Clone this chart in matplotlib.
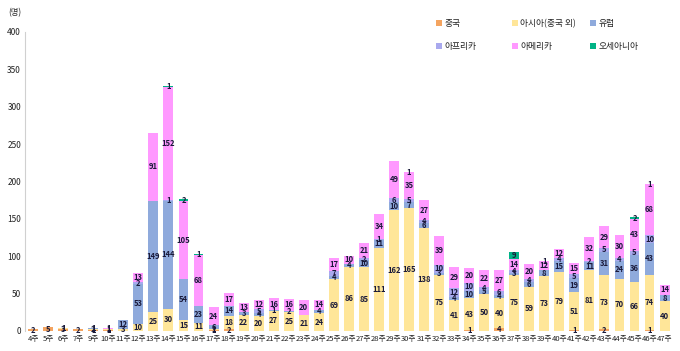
import matplotlib
matplotlib.use('Agg')
import matplotlib.pyplot as plt
import numpy as np

plt.rcParams['font.family'] = ['Noto Sans CJK KR', 'DejaVu Sans']

weeks = [4, 5, 6, 7, 9, 10, 11, 12, 13, 14, 15, 16, 17, 18, 19, 20, 21, 22, 23, 24,
         25, 26, 27, 28, 29, 30, 31, 32, 33, 34, 35, 36, 37, 38, 39, 40, 41, 42, 43,
         44, 45, 46, 47]
week_labels = [f'{w}주' for w in weeks]

china = [2, 5, 3, 2, 1, 1, 0, 0, 0, 0, 0, 0, 1, 2, 0, 0, 0, 0, 0, 0,
         0, 0, 0, 0, 0, 0, 0, 0, 0, 1, 0, 4, 0, 0, 0, 0, 1, 0, 2,
         0, 0, 1, 0]
asia = [0, 0, 1, 0, 2, 1, 3, 10, 25, 30, 15, 11, 1, 18, 22, 20, 27, 25, 21, 24,
        69, 86, 85, 111, 162, 165, 138, 75, 41, 43, 50, 40, 75, 59, 73, 79, 51, 81, 73,
        70, 66, 74, 40]
europe = [0, 0, 0, 0, 1, 1, 12, 53, 149, 144, 54, 23, 6, 14, 3, 4, 1, 2, 0, 4,
          4, 4, 10, 11, 10, 7, 6, 3, 4, 10, 5, 4, 3, 6, 8, 15, 19, 11, 31,
          24, 36, 43, 8]
africa = [0, 0, 0, 0, 0, 0, 0, 2, 0, 1, 0, 0, 0, 0, 0, 5, 0, 0, 0, 0,
          7, 0, 2, 1, 6, 5, 4, 10, 12, 10, 4, 6, 4, 4, 0, 4, 5, 2, 5,
          4, 5, 10, 0]
america = [0, 0, 0, 0, 0, 1, 0, 13, 91, 152, 105, 68, 24, 17, 13, 12, 16, 16, 20, 14,
           17, 10, 21, 34, 49, 35, 27, 39, 29, 20, 22, 27, 14, 20, 12, 12, 15, 32, 29,
           30, 43, 68, 14]
oceania = [0, 0, 0, 0, 0, 0, 0, 0, 0, 1, 2, 1, 0, 0, 0, 0, 0, 0, 0, 0,
           0, 0, 0, 0, 0, 1, 0, 0, 0, 0, 0, 0, 9, 0, 1, 0, 0, 0, 0,
           0, 2, 1, 0]

series = [
    ('중국', china, '#F4A460'),
    ('아시아(중국 외)', asia, '#FFE699'),
    ('유럽', europe, '#8FAADC'),
    ('아프리카', africa, '#A9A9EE'),
    ('아메리카', america, '#FF99FF'),
    ('오세아니아', oceania, '#00B386'),
]

fig = plt.figure(figsize=(6.8, 3.51), dpi=100)
ax = fig.add_axes([0.037, 0.057, 0.958, 0.852])

x = np.arange(len(weeks))
bottom = np.zeros(len(weeks))
handles = []
for name, vals, color in series:
    vals = np.array(vals, dtype=float)
    h = ax.bar(x, vals, 0.66, bottom=bottom, color=color, label=name)
    handles.append(h)
    for xi, v, b in zip(x, vals, bottom):
        if v > 0:
            ax.text(xi, b + v / 2, f'{int(v)}', ha='center', va='center',
                    fontsize=5.5, fontweight='bold', color='#1a1a3a')
    bottom += vals

ax.set_ylim(0, 400)
ax.set_xlim(-0.53, 42.8)
ax.set_yticks(range(0, 401, 50))
ax.set_xticks(x)
ax.set_xticklabels(week_labels, fontsize=5.5, color='#222222')
ax.tick_params(axis='both', length=0, pad=3)
ax.tick_params(axis='y', labelsize=6, colors='#222222')
for s in ['top', 'right', 'bottom']:
    ax.spines[s].set_visible(False)
ax.spines['left'].set_color('#d0d0d0')

fig.text(0.012, 0.965, '(명)', fontsize=6, color='#222222', ha='left', va='center')

# one legend per column, rows: (중국, 아시아, 유럽) / (아프리카, 아메리카, 오세아니아)
col_x = [431, 507, 585]
for c in range(3):
    leg = fig.legend(handles=[handles[c], handles[c + 3]],
                     loc='upper left', bbox_to_anchor=(col_x[c] / 680, 1 - 14 / 351),
                     frameon=False, fontsize=6.3, handlelength=0.6, handleheight=0.6,
                     handletextpad=0.3, labelspacing=1.55, borderpad=0.1)
    for t in leg.get_texts():
        t.set_color('#222222')

fig.savefig('out.png', dpi=100)
